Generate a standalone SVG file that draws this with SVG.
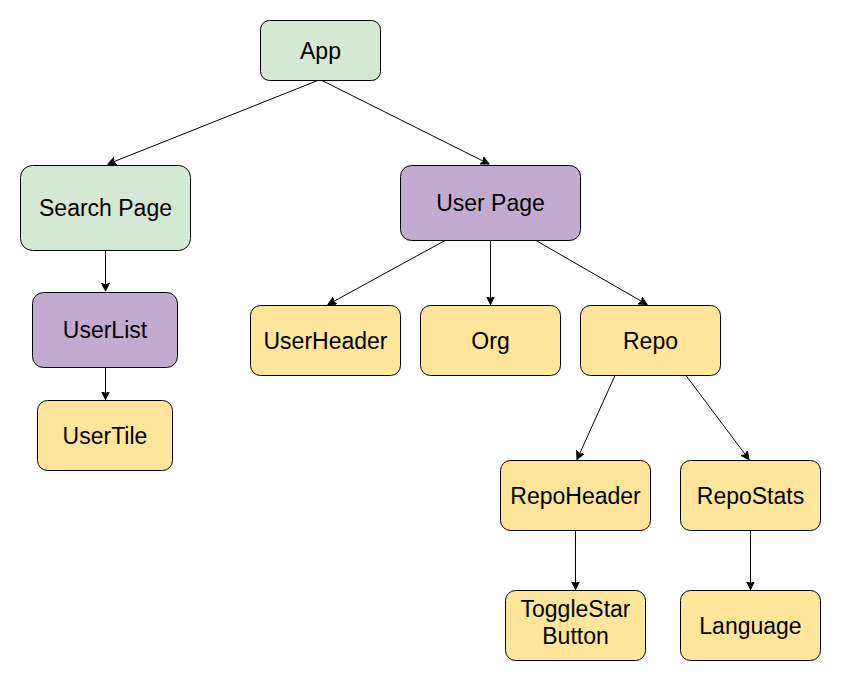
<svg xmlns="http://www.w3.org/2000/svg" width="841" height="681" viewBox="0 0 841 681">
<defs>
<marker id="arr" markerWidth="10" markerHeight="10" refX="8" refY="4" orient="auto" markerUnits="userSpaceOnUse">
<path d="M0,0 L8,4 L0,8 L2,4 Z" fill="#000" stroke="#000" stroke-width="1"/>
</marker>
<style>
.n rect{stroke:#000;stroke-width:1}
.g rect{fill:#d5e8d4}
.p rect{fill:#c3abd0}
.y rect{fill:#ffe599}
text{font-family:"Liberation Sans",Arial,sans-serif;font-size:23px;fill:#000;text-anchor:middle}
#edges path{fill:none;stroke:#000;stroke-width:1;marker-end:url(#arr)}
</style>
</defs>
<rect x="0" y="0" width="841" height="681" fill="#fff"/>
<g id="edges">
<path d="M319,80 L108,164"/>
<path d="M321,80 L489,164"/>
<path d="M105.5,250 L105.5,291"/>
<path d="M105.5,367.5 L105.5,399.5"/>
<path d="M445,240.5 L328,304.5"/>
<path d="M490.5,240.5 L490.5,304.5"/>
<path d="M536,240.5 L647,304.5"/>
<path d="M615,375.5 L577,459.5"/>
<path d="M686,375.5 L749,459.5"/>
<path d="M575.5,530.5 L575.5,589.5"/>
<path d="M750.5,530.5 L750.5,589.5"/>
</g>
<g id="app" class="n g"><rect x="260.5" y="20.5" width="120" height="60" rx="9"/><text x="320.5" y="58.5">App</text></g>
<g id="search-page" class="n g"><rect x="20.5" y="165.5" width="170" height="85" rx="12"/><text x="105.5" y="216">Search Page</text></g>
<g id="user-page" class="n p"><rect x="400.5" y="165.5" width="180" height="75" rx="11"/><text x="490.5" y="211">User Page</text></g>
<g id="userlist" class="n p"><rect x="32.5" y="292.5" width="145" height="75" rx="11"/><text x="105" y="338">UserList</text></g>
<g id="usertile" class="n y"><rect x="37.5" y="400.5" width="135" height="70" rx="10"/><text x="105" y="443.5">UserTile</text></g>
<g id="userheader" class="n y"><rect x="250.5" y="305.5" width="150" height="70" rx="10"/><text x="325.5" y="348.5">UserHeader</text></g>
<g id="org" class="n y"><rect x="420.5" y="305.5" width="140" height="70" rx="10"/><text x="490.5" y="348.5">Org</text></g>
<g id="repo" class="n y"><rect x="580.5" y="305.5" width="140" height="70" rx="10"/><text x="650.5" y="348.5">Repo</text></g>
<g id="repoheader" class="n y"><rect x="500.5" y="460.5" width="150" height="70" rx="10"/><text x="575.5" y="503.5">RepoHeader</text></g>
<g id="repostats" class="n y"><rect x="680.5" y="460.5" width="140" height="70" rx="10"/><text x="750.5" y="503.5">RepoStats</text></g>
<g id="togglestar-button" class="n y"><rect x="505.5" y="590.5" width="140" height="70" rx="10"/><text x="575.5" y="617">ToggleStar</text><text x="575.5" y="643.5">Button</text></g>
<g id="language" class="n y"><rect x="680.5" y="590.5" width="140" height="70" rx="10"/><text x="750.5" y="633.5">Language</text></g>
</svg>
